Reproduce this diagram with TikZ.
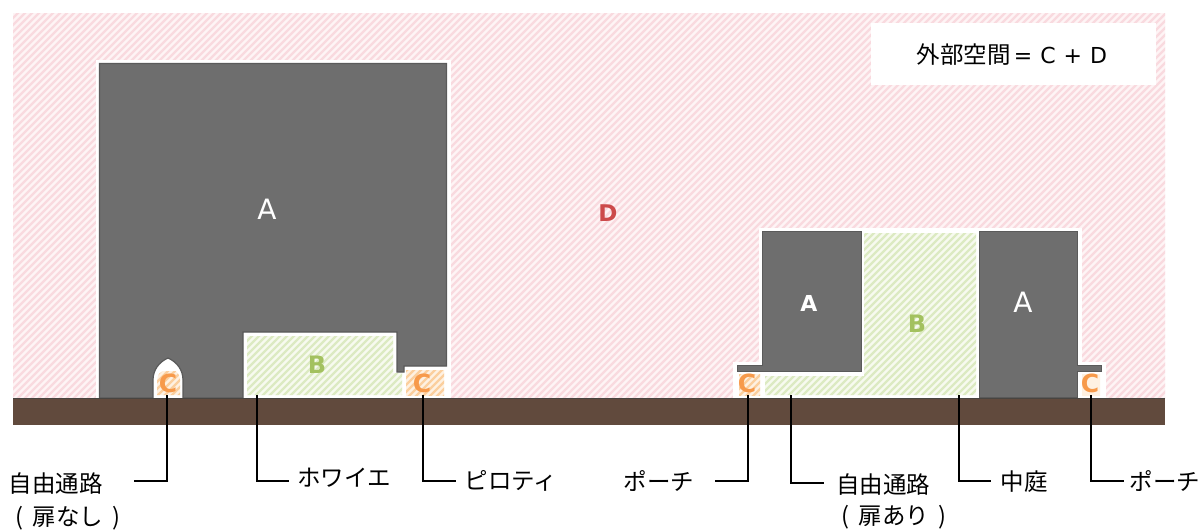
\documentclass[tikz,border=0pt]{standalone}
\usepackage{fontspec}
\setmainfont{DejaVu Sans}
\newfontfamily\jp{Noto Sans CJK JP}
\definecolor{dbg}{HTML}{FEF4F5}\definecolor{dst}{HTML}{F9DADF}
\definecolor{bbg}{HTML}{F7FAEF}\definecolor{bst}{HTML}{DCEAC2}
\definecolor{cbg}{HTML}{FEF1E2}\definecolor{cst}{HTML}{FBCF9E}
\definecolor{bldg}{HTML}{6E6E6E}\definecolor{bedge}{HTML}{5A5A5A}
\definecolor{soil}{HTML}{614A3D}\definecolor{soiledge}{HTML}{484440}
\definecolor{dtxt}{HTML}{CC4A4A}\definecolor{btxt}{HTML}{A3C15F}\definecolor{ctxt}{HTML}{F79A4B}
\newcommand{\hatchfill}[4]{% bg, stripe, x-range end, path
  \begin{scope}
    \clip #4;
    \fill[#1] (0,0) rectangle (1201,531);
    \foreach \i in {#3} {\draw[#2,line width=2.2pt] (\i,450) -- ++(450,-450);}
  \end{scope}}
\tikzset{
  bldgshape/.style={fill=bldg,draw=bedge,line width=1.2pt,line join=miter},
  halo/.style={draw=white,fill=white,line width=8pt,line join=miter},
  lead/.style={draw=black,line width=1.5pt,line join=miter},
  jplabel/.style={font=\jp\fontsize{23.5}{28}\selectfont,text=black,inner sep=0pt,anchor=center},
  biglet/.style={font=\fontsize{28}{30}\selectfont,text=white,inner sep=0pt},
  dlet/.style={font=\bfseries\fontsize{23}{26}\selectfont,text=dtxt,inner sep=0pt},
  blet/.style={font=\bfseries\fontsize{24}{26}\selectfont,text=btxt,inner sep=0pt},
  clet/.style={font=\bfseries\fontsize{25}{27}\selectfont,text=ctxt,inner sep=0pt},
}
\begin{document}
\begin{tikzpicture}[x=1pt,y=-1pt]
\useasboundingbox (0,0) rectangle (1201,531);
\fill[white] (0,0) rectangle (1201,531);
% outside space D
\hatchfill{dbg}{dst}{-440,-433,...,1170}{(13,13) rectangle (1165,398)}
% halos
\path[halo] (99.5,63.5) -- (446.5,63.5) -- (446.5,398) -- (99.5,398) -- cycle;
\path[halo] (737,365.5) -- (762.5,365.5) -- (762.5,231.5) -- (1077.5,231.5) -- (1077.5,365.5) -- (1102,365.5) -- (1102,398) -- (737,398) -- cycle;
% right group hatches
\hatchfill{bbg}{bst}{300,307,...,1000}{(864,233) -- (976,233) -- (976,395) -- (765,395) -- (765,376) -- (864,376) -- cycle}
\hatchfill{cbg}{cst}{300,307,...,1000}{(739,374) rectangle (760,395)}
\hatchfill{cbg}{cst}{300,307,...,1000}{(1082,374) rectangle (1100,395)}
% big building
\path[bldgshape] (99.5,63.5) -- (446.5,63.5) -- (446.5,366) -- (404,366) -- (404,372) -- (397,372) -- (397,332) -- (243,332) -- (243,398) -- (183,398) -- (183,380) .. controls (183,370) and (177,362) .. (168,358) .. controls (159,362) and (153,370) .. (153,380) -- (153,398) -- (99.5,398) -- cycle;
% left group hatches
\hatchfill{bbg}{bst}{-100,-93,...,400}{(247,336) -- (393,336) -- (393,373) -- (402,373) -- (402,395) -- (247,395) -- cycle}
\hatchfill{cbg}{cst}{-100,-93,...,400}{(406,370) rectangle (444,395)}
\hatchfill{cbg}{cst}{-100,-93,...,400}{(157,395) -- (157,380) .. controls (158,374) and (160,372) .. (163,371) -- (176,371) .. controls (178,373) and (180,376) .. (180,380) -- (180,395) -- cycle}
% right group buildings
\path[bldgshape] (737.5,365.5) -- (762.5,365.5) -- (762.5,231.5) -- (861.5,231.5) -- (861.5,371.5) -- (737.5,371.5) -- cycle;
\path[bldgshape] (979.5,231.5) -- (1077.5,231.5) -- (1077.5,365.5) -- (1101.5,365.5) -- (1101.5,371.5) -- (1077.5,371.5) -- (1077.5,398) -- (979.5,398) -- cycle;
% ground
\fill[soil] (13,398) rectangle (1165,425);
\draw[soiledge,line width=1.5pt] (13,398.5) -- (1165,398.5);
% legend box
\node[fill=white,minimum width=285pt,minimum height=62pt,inner sep=0pt] (legend) at (1013.5,54) {};
\node[inner sep=0pt,font=\fontsize{22}{26}\selectfont] (legendtxt) at (1012,55) {{\jp\fontsize{23.5}{26}\selectfont 外部空間}\hspace{3pt}=\hspace{8pt}C\hspace{8pt}+\hspace{8pt}D};
% letters
\node[biglet] (a1) at (267,209) {A};
\node[biglet,font=\bfseries\fontsize{22}{24}\selectfont] (a2) at (809,303) {A};
\node[biglet] (a3) at (1023,302) {A};
\node[dlet] (d) at (608,213) {D};
\node[blet] (b1) at (317,365) {B};
\node[blet] (b2) at (917,324) {B};
\node[clet] (c1) at (168,383) {C};
\node[clet] (c2) at (422,383) {C};
\node[clet] (c3) at (747,383) {C};
\node[clet] (c4) at (1090,383) {C};
% label text
\node[jplabel] (l1) at (56,484) {自由通路};
\node[jplabel] (l1b) at (68,518) {(\hspace{9pt}扉なし\hspace{9pt})};
\node[jplabel] (l2) at (344,478) {ホワイエ};
\node[jplabel] (l3) at (511,481) {ピロティ};
\node[jplabel] (l4) at (659,481) {ポーチ};
\node[jplabel] (l5) at (883,485) {自由通路};
\node[jplabel] (l5b) at (894,517) {(\hspace{9pt}扉あり\hspace{9pt})};
\node[jplabel] (l6) at (1024,482) {中庭};
\node[jplabel] (l7) at (1165,481) {ポーチ};
% leader ends
\coordinate (t1) at (167,395); \coordinate (e1) at (134,481);
\coordinate (t2) at (257,395); \coordinate (e2) at (289,481);
\coordinate (t3) at (423,395); \coordinate (e3) at (456,481);
\coordinate (t4) at (748,395); \coordinate (e4) at (715,481);
\coordinate (t5) at (791,395); \coordinate (e5) at (824,483);
\coordinate (t6) at (959,395); \coordinate (e6) at (991,481);
\coordinate (t7) at (1091,395); \coordinate (e7) at (1124,481);
\foreach \n in {1,...,7} {\draw[lead] (t\n) |- (e\n);}
\end{tikzpicture}
\end{document}
